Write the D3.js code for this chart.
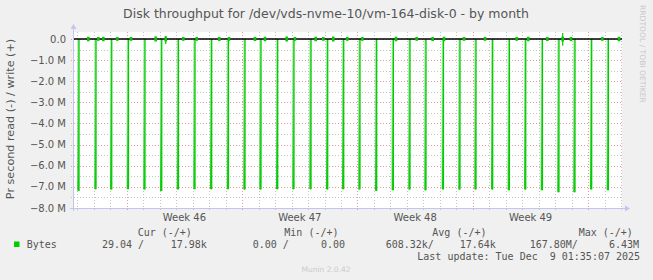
<!DOCTYPE html>
<html>
<head>
<meta charset="utf-8">
<script src="https://cdn.jsdelivr.net/npm/d3@7/dist/d3.min.js"></script>
<style>
  body { margin: 0; background: #f0f0f0; }
  svg text { font-family: "DejaVu Sans", sans-serif; }
  svg text.mono { font-family: "DejaVu Sans Mono", monospace; white-space: pre; }
</style>
</head>
<body>
<div id="chart"></div>
<script>
// time window of the month graph
var startTime = new Date("2025-11-05T17:50:00Z");
var endTime = new Date("2025-12-09T01:05:00Z");

// nightly read bursts (start of the 2h sample) and their read rate in bytes/s
var spikeTimes = [
  "2025-11-06T00:06Z", "2025-11-07T00:50Z", "2025-11-07T23:43Z", "2025-11-09T00:02Z",
  "2025-11-10T00:08Z", "2025-11-11T00:31Z", "2025-11-12T00:50Z", "2025-11-13T00:57Z",
  "2025-11-14T01:14Z", "2025-11-15T01:38Z", "2025-11-16T01:44Z", "2025-11-17T01:02Z",
  "2025-11-18T01:20Z", "2025-11-19T01:02Z", "2025-11-20T01:50Z", "2025-11-21T02:08Z",
  "2025-11-22T01:26Z", "2025-11-23T01:08Z", "2025-11-24T01:26Z", "2025-11-25T01:44Z",
  "2025-11-26T01:56Z", "2025-11-27T01:14Z", "2025-11-28T02:38Z", "2025-11-29T02:44Z",
  "2025-11-30T02:02Z", "2025-12-01T02:20Z", "2025-12-02T02:38Z", "2025-12-03T02:26Z",
  "2025-12-04T02:44Z", "2025-12-05T02:50Z", "2025-12-06T02:08Z", "2025-12-07T02:26Z",
  "2025-12-08T02:44Z"
];
var spikeRead = [
  7.19e6, 7.11e6, 7.12e6, 7.11e6, 7.12e6, 7.19e6, 7.12e6, 7.11e6,
  7.11e6, 7.11e6, 7.12e6, 7.12e6, 7.11e6, 7.11e6, 7.11e6, 7.12e6,
  7.11e6, 7.12e6, 7.19e6, 7.16e6, 7.12e6, 7.16e6, 7.12e6, 7.12e6,
  7.12e6, 7.12e6, 7.16e6, 7.12e6, 7.16e6, 7.25e6, 7.25e6, 7.12e6,
  7.16e6
];

// small write (+) / read (-) activity around zero
var blipTimes = [
  "2025-11-06T16:06Z", "2025-11-07T06:40Z", "2025-11-07T13:57Z", "2025-11-08T10:19Z",
  "2025-11-09T06:16Z", "2025-11-10T18:13Z", "2025-11-11T08:47Z", "2025-11-12T10:24Z",
  "2025-11-13T05:55Z", "2025-11-14T14:49Z", "2025-11-15T04:56Z", "2025-11-16T18:47Z",
  "2025-11-17T09:20Z", "2025-11-18T16:56Z", "2025-11-19T05:02Z", "2025-11-20T11:08Z",
  "2025-11-20T22:14Z", "2025-11-21T12:44Z", "2025-11-22T09:08Z", "2025-11-23T07:02Z",
  "2025-11-25T08:02Z", "2025-11-26T14:08Z", "2025-11-27T13:26Z", "2025-11-28T05:56Z",
  "2025-11-29T11:02Z", "2025-11-30T17:38Z", "2025-12-02T15:44Z", "2025-12-03T08:38Z",
  "2025-12-04T12:20Z", "2025-12-05T10:44Z", "2025-12-05T22:50Z", "2025-12-07T20:20Z",
  "2025-12-08T20:44Z"
];
var blipWrite = [
  0.08e6, 0.06e6, 0.08e6, 0.06e6, 0.06e6, 0.1e6, 0.14e6, 0.06e6,
  0.06e6, 0.07e6, 0.06e6, 0.07e6, 0.08e6, 0.09e6, 0.06e6, 0.08e6,
  0.06e6, 0.09e6, 0.06e6, 0.06e6, 0.08e6, 0.06e6, 0.07e6, 0.08e6,
  0.06e6, 0.06e6, 0.06e6, 0.08e6, 0.07e6, 0.28e6, 0.07e6, 0.06e6,
  0.08e6
];
var blipRead = [
  0.08e6, 0.06e6, 0.08e6, 0.06e6, 0.06e6, 0.1e6, 0.24e6, 0.06e6,
  0.06e6, 0.07e6, 0.06e6, 0.07e6, 0.08e6, 0.09e6, 0.06e6, 0.08e6,
  0.06e6, 0.09e6, 0.06e6, 0.06e6, 0.08e6, 0.06e6, 0.07e6, 0.08e6,
  0.06e6, 0.06e6, 0.06e6, 0.08e6, 0.07e6, 0.32e6, 0.07e6, 0.06e6,
  0.08e6
];

var yTicks = [0, -1e6, -2e6, -3e6, -4e6, -5e6, -6e6, -7e6, -8e6];
var yMinor = [-0.5e6, -1.5e6, -2.5e6, -3.5e6, -4.5e6, -5.5e6, -6.5e6, -7.5e6];

var legendHead = ["Cur (-/+)", "Min (-/+)", "Avg (-/+)", "Max (-/+)"];
var legendName = "Bytes";
var legendVals = ["29.04 /", "17.98k", "0.00 /", "0.00", "608.32k/", "17.64k", "167.80M/", "6.43M"];
var lastUpdate = "Last update: Tue Dec  9 01:35:07 2025";

var title = "Disk throughput for /dev/vds-nvme-10/vm-164-disk-0 - by month";
var yLabel = "Pr second read (-) / write (+)";

var width = 653, height = 280;
var plot = {left: 73, right: 622, top: 32, bottom: 208};
var green = "#00cc00";
var hour = 3600 * 1000;

var svg = d3.select("#chart").append("svg")
    .attr("width", width)
    .attr("height", height);

svg.append("rect").attr("width", width).attr("height", height).attr("fill", "#f0f0f0");

var x = d3.scaleUtc().domain([startTime, endTime]).range([plot.left, plot.right]);
var y = d3.scaleLinear().domain([-8e6, 0.33e6]).range([plot.bottom, plot.top]);

var grad = svg.append("defs").append("linearGradient")
    .attr("id", "spikeFill")
    .attr("gradientUnits", "userSpaceOnUse")
    .attr("x1", 0).attr("x2", 0)
    .attr("y1", y(0)).attr("y2", y(-7.2e6));
grad.append("stop").attr("offset", "0%").attr("stop-color", "#b4f0b4");
grad.append("stop").attr("offset", "55%").attr("stop-color", "#70dd70");
grad.append("stop").attr("offset", "100%").attr("stop-color", "#10cc10");

svg.append("rect")
    .attr("x", plot.left).attr("y", plot.top)
    .attr("width", plot.right - plot.left).attr("height", plot.bottom - plot.top)
    .attr("fill", "#ffffff");

// grid
var days = d3.utcDay.range(startTime, endTime).filter(function (d) {return d.getUTCDay() !== 0;});
var weeks = d3.utcSunday.range(startTime, endTime);
var grid = svg.append("g").attr("shape-rendering", "crispEdges");

grid.selectAll(".hminor").data(yMinor).enter().append("line")
    .attr("x1", plot.left - 2).attr("x2", plot.right)
    .attr("y1", function (d) {return Math.round(y(d)) + 0.5;})
    .attr("y2", function (d) {return Math.round(y(d)) + 0.5;})
    .attr("stroke", "#c4c4c4").attr("stroke-dasharray", "1,2");

grid.selectAll(".vminor").data(days).enter().append("line")
    .attr("x1", function (d) {return Math.round(x(d)) + 0.5;})
    .attr("x2", function (d) {return Math.round(x(d)) + 0.5;})
    .attr("y1", plot.top).attr("y2", plot.bottom + 2)
    .attr("stroke", "#c4c4c4").attr("stroke-dasharray", "1,2");

grid.selectAll(".hmajor").data(yTicks).enter().append("line")
    .attr("x1", plot.left - 2).attr("x2", plot.right)
    .attr("y1", function (d) {return Math.round(y(d)) + 0.5;})
    .attr("y2", function (d) {return Math.round(y(d)) + 0.5;})
    .attr("stroke", "#e89a9a").attr("stroke-dasharray", "1,2");

grid.selectAll(".vmajor").data(weeks).enter().append("line")
    .attr("x1", function (d) {return Math.round(x(d)) + 0.5;})
    .attr("x2", function (d) {return Math.round(x(d)) + 0.5;})
    .attr("y1", plot.top).attr("y2", plot.bottom + 3)
    .attr("stroke", "#e89a9a").attr("stroke-dasharray", "1,2");

// read spikes
var spikes = spikeTimes.map(function (t, i) {
  var t0 = new Date(t);
  return {t0: t0, t1: new Date(t0.getTime() + 2.5 * hour), v: -spikeRead[i]};
});

svg.append("g").selectAll("path").data(spikes).enter().append("path")
    .attr("d", function (d) {
      return "M" + x(d.t0) + "," + y(0) + "V" + y(d.v) + "H" + x(d.t1) + "V" + y(0) + "Z";
    })
    .attr("fill", "url(#spikeFill)");

svg.append("g").selectAll("path").data(spikes).enter().append("path")
    .attr("d", function (d) {
      return "M" + x(d.t1) + "," + y(0) + "V" + y(d.v);
    })
    .attr("stroke", green).attr("stroke-width", 1.3).attr("fill", "none");

// zero line
svg.append("line")
    .attr("x1", plot.left).attr("x2", plot.right)
    .attr("y1", y(0)).attr("y2", y(0))
    .attr("stroke", "#000").attr("stroke-width", 1.4);

// small blips
var blips = blipTimes.map(function (t, i) {
  return {t: new Date(t), w: blipWrite[i], r: -blipRead[i]};
});
var bl = svg.append("g");
bl.selectAll("line").data(blips).enter().append("line")
    .attr("x1", function (d) {return x(d.t);})
    .attr("x2", function (d) {return x(d.t);})
    .attr("y1", function (d) {return y(d.w);})
    .attr("y2", function (d) {return y(d.r);})
    .attr("stroke", green).attr("stroke-width", 1.2);
bl.selectAll("path").data(blips).enter().append("path")
    .attr("d", function (d) {
      var a = x(new Date(d.t.getTime() - hour)), b = x(new Date(d.t.getTime() + hour));
      var w = Math.min(d.w, 0.09e6), r = Math.max(d.r, -0.09e6);
      return "M" + a + "," + y(w) + "H" + b + "V" + y(r) + "H" + a + "Z";
    })
    .attr("fill", green).attr("stroke", green).attr("stroke-width", 1.2);

// axes
var axisColor = "#c4c4f0";
svg.append("line")
    .attr("x1", plot.left + 0.5).attr("x2", plot.left + 0.5)
    .attr("y1", plot.bottom + 3).attr("y2", plot.top - 4)
    .attr("stroke", axisColor);
svg.append("path")
    .attr("d", "M" + (plot.left - 2.5) + "," + (plot.top - 3) + "L" + (plot.left + 3.5) + "," + (plot.top - 3) + "L" + (plot.left + 0.5) + "," + (plot.top - 8) + "Z")
    .attr("fill", axisColor);
svg.append("line")
    .attr("x1", plot.left - 3).attr("x2", plot.right + 4)
    .attr("y1", plot.bottom + 0.5).attr("y2", plot.bottom + 0.5)
    .attr("stroke", axisColor);
svg.append("path")
    .attr("d", "M" + (plot.right + 3) + "," + (plot.bottom - 2.5) + "L" + (plot.right + 3) + "," + (plot.bottom + 3.5) + "L" + (plot.right + 8) + "," + (plot.bottom + 0.5) + "Z")
    .attr("fill", axisColor);

// y tick labels
svg.append("g").selectAll("text").data(yTicks).enter().append("text")
    .attr("x", plot.left - 7)
    .attr("y", function (d) {return y(d);})
    .attr("dy", "0.36em")
    .attr("text-anchor", "end")
    .attr("font-size", 10)
    .attr("fill", "#555")
    .text(function (d) {return d === 0 ? "0.0" : d3.format(".1f")(d / 1e6) + " M";});

// week labels
var fmtWeek = d3.utcFormat("%V");
var weekMids = d3.utcSunday.range(d3.utcSunday.offset(startTime, -1), endTime)
    .map(function (d) {return new Date(d.getTime() + 3.5 * 24 * hour);})
    .filter(function (d) {return d > startTime && d < endTime;});
svg.append("g").selectAll("text").data(weekMids).enter().append("text")
    .attr("x", function (d) {return x(d);})
    .attr("y", 221)
    .attr("text-anchor", "middle")
    .attr("font-size", 10)
    .attr("fill", "#555")
    .text(function (d) {return "Week " + (+fmtWeek(d));});

// title and side texts
svg.append("text")
    .attr("x", 326).attr("y", 18)
    .attr("text-anchor", "middle")
    .attr("font-size", 12.5)
    .attr("fill", "#555")
    .text(title);

svg.append("text")
    .attr("transform", "translate(14,119) rotate(-90)")
    .attr("text-anchor", "middle")
    .attr("font-size", 11.2)
    .attr("fill", "#555")
    .text(yLabel);

svg.append("text")
    .attr("transform", "translate(640,5) rotate(90)")
    .attr("text-anchor", "start")
    .attr("font-size", 7.6)
    .attr("fill", "#c8c8c8")
    .text("RRDTOOL / TOBI OETIKER");

// legend
var headX = [137.7, 284.3, 432.3, 578.7];
svg.append("g").selectAll("text").data(legendHead).enter().append("text")
    .attr("class", "mono")
    .attr("x", function (d, i) {return headX[i];})
    .attr("y", 236)
    .attr("font-size", 10)
    .attr("fill", "#555")
    .text(function (d) {return d;});

svg.append("rect")
    .attr("x", 14).attr("y", 241.5).attr("width", 5.5).attr("height", 5.5)
    .attr("fill", green);
svg.append("text")
    .attr("class", "mono")
    .attr("x", 26.7).attr("y", 247.5)
    .attr("font-size", 10)
    .attr("fill", "#555")
    .text(legendName);

var valX = [102, 170.7, 252.7, 321, 385.7, 459.7, 529.7, 609];
svg.append("g").selectAll("text").data(legendVals).enter().append("text")
    .attr("class", "mono")
    .attr("x", function (d, i) {return valX[i];})
    .attr("y", 247.5)
    .attr("font-size", 10)
    .attr("fill", "#555")
    .text(function (d) {return d;});

svg.append("text")
    .attr("class", "mono")
    .attr("x", 417.3).attr("y", 259.5)
    .attr("font-size", 10)
    .attr("fill", "#555")
    .text(lastUpdate);

svg.append("text")
    .attr("x", 326).attr("y", 272)
    .attr("text-anchor", "middle")
    .attr("font-size", 7.5)
    .attr("fill", "#cccccc")
    .text("Munin 2.0.42");
</script>
</body>
</html>
